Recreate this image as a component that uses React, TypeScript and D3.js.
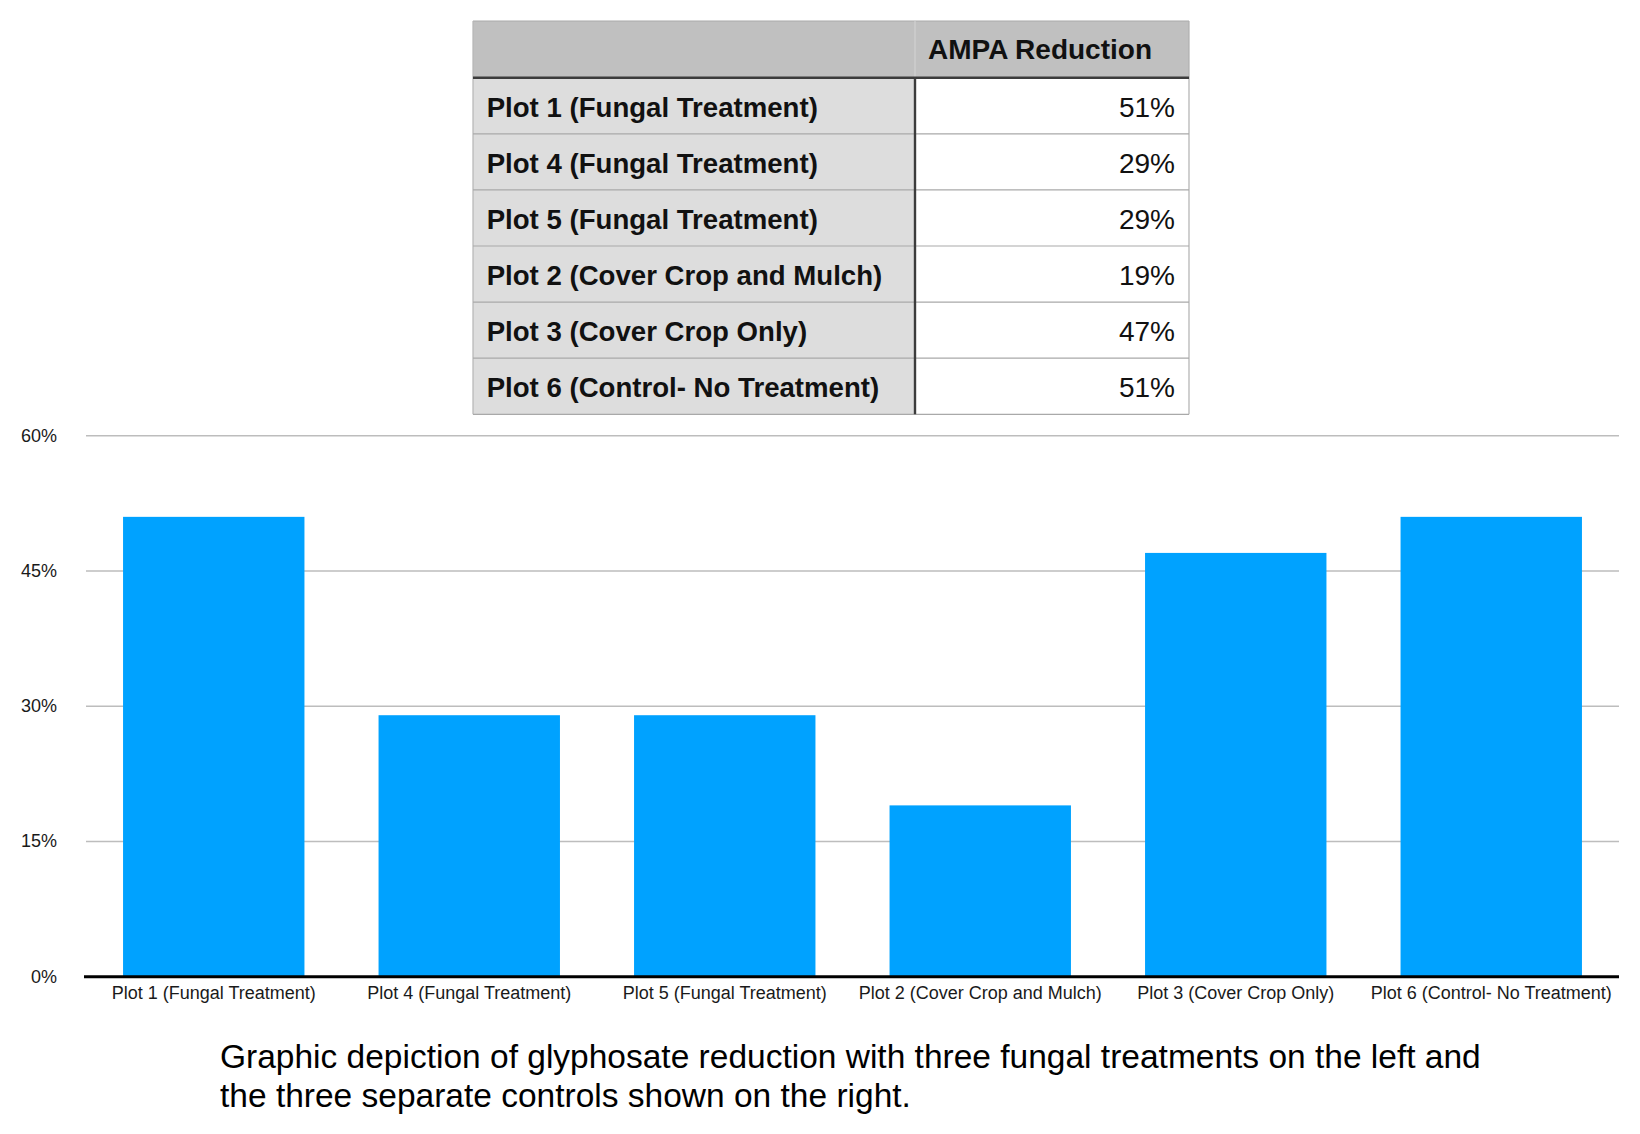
import React from "react";
import * as d3 from "d3";

const categories: string[] = [
  "Plot 1 (Fungal Treatment)",
  "Plot 4 (Fungal Treatment)",
  "Plot 5 (Fungal Treatment)",
  "Plot 2 (Cover Crop and Mulch)",
  "Plot 3 (Cover Crop Only)",
  "Plot 6 (Control- No Treatment)",
];
const values: number[] = [51, 29, 29, 19, 47, 51];
const yTicks: number[] = [0, 15, 30, 45, 60];
const tableHeader = "AMPA Reduction";
const captionLines: string[] = [
  "Graphic depiction of glyphosate reduction with three fungal treatments on the left and",
  "the three separate controls shown on the right.",
];

const W = 1640;
const H = 1134;
const FONT = "'Liberation Sans', Arial, Helvetica, sans-serif";

export default function App() {
  // chart geometry
  const plotLeft = 86;
  const plotRight = 1619;
  const y = d3.scaleLinear().domain([0, 60]).range([976.7, 435.7]);
  const x = d3
    .scaleBand<string>()
    .domain(categories)
    .range([plotLeft, plotRight])
    .paddingInner(0.29)
    .paddingOuter(0.145);

  // table geometry
  const tLeft = 473;
  const tDiv = 915;
  const tRight = 1189;
  const tTop = 21;
  const tHeadBottom = 77.7;
  const tBottom = 414.3;
  const rows = d3.scaleBand<string>().domain(categories).range([tHeadBottom, tBottom]);
  const fmt = (v: number) => `${v}%`;

  return (
    <svg
      width={W}
      height={H}
      viewBox={`0 0 ${W} ${H}`}
      style={{ position: "absolute", left: 0, top: 0, display: "block", background: "#fff" }}
      fontFamily={FONT}
    >
      <rect x={0} y={0} width={W} height={H} fill="#fff" />

      {/* gridlines */}
      {yTicks
        .filter((t) => t !== 0)
        .map((t) => (
          <line
            key={`g${t}`}
            x1={plotLeft}
            x2={plotRight}
            y1={y(t)}
            y2={y(t)}
            stroke="#bdbdbd"
            strokeWidth={1.6}
          />
        ))}

      {/* table */}
      <g>
        <rect x={tLeft} y={tTop} width={tRight - tLeft} height={tHeadBottom - tTop} fill="#c0c0c0" />
        <rect x={tLeft} y={tHeadBottom} width={tDiv - tLeft} height={tBottom - tHeadBottom} fill="#dddddd" />
        <rect x={tDiv} y={tHeadBottom} width={tRight - tDiv} height={tBottom - tHeadBottom} fill="#ffffff" />
        {/* outer thin borders */}
        <line x1={tLeft} x2={tRight} y1={tTop} y2={tTop} stroke="#a9a9a9" strokeWidth={1.2} />
        <line x1={tLeft} x2={tLeft} y1={tTop} y2={tBottom} stroke="#b5b5b5" strokeWidth={1.2} />
        <line x1={tRight} x2={tRight} y1={tTop} y2={tBottom} stroke="#b0b0b0" strokeWidth={1.2} />
        <line x1={tDiv} x2={tDiv} y1={tTop} y2={tHeadBottom} stroke="#d0d0d0" strokeWidth={1.2} />
        {categories.map((c, i) => (
          <line
            key={`rl${i}`}
            x1={tLeft}
            x2={tRight}
            y1={(rows(c) as number) + rows.bandwidth()}
            y2={(rows(c) as number) + rows.bandwidth()}
            stroke="#a9a9a9"
            strokeWidth={1.2}
          />
        ))}
        {/* thick dividers */}
        <line x1={tLeft} x2={tRight} y1={tHeadBottom} y2={tHeadBottom} stroke="#3c3c3c" strokeWidth={2.4} />
        <line x1={tDiv} x2={tDiv} y1={tHeadBottom} y2={tBottom} stroke="#3c3c3c" strokeWidth={2.4} />
        <text
          x={928}
          y={(tTop + tHeadBottom) / 2 + 10}
          fontSize={28}
          fontWeight="bold"
          fill="#111"
        >
          {tableHeader}
        </text>
        {categories.map((c, i) => {
          const cy = (rows(c) as number) + rows.bandwidth() / 2;
          return (
            <g key={`tr${i}`}>
              <text x={486.7} y={cy + 11} fontSize={27.6} fontWeight="bold" fill="#111">
                {c}
              </text>
              <text x={1175} y={cy + 11} fontSize={28} textAnchor="end" fill="#111">
                {fmt(values[i])}
              </text>
            </g>
          );
        })}
      </g>

      {/* bars */}
      {categories.map((c, i) => (
        <rect
          key={`b${i}`}
          x={x(c)}
          y={y(values[i])}
          width={x.bandwidth()}
          height={y(0) - y(values[i])}
          fill="#00a2ff"
        />
      ))}

      {/* x axis line */}
      <line x1={plotLeft - 2} x2={plotRight} y1={y(0)} y2={y(0)} stroke="#000" strokeWidth={3} />

      {/* y tick labels */}
      {yTicks.map((t) => (
        <text key={`yl${t}`} x={57} y={y(t) + 6} fontSize={18} textAnchor="end" fill="#1a1a1a">
          {fmt(t)}
        </text>
      ))}

      {/* category labels */}
      {categories.map((c, i) => (
        <text
          key={`xl${i}`}
          x={(x(c) as number) + x.bandwidth() / 2}
          y={999}
          fontSize={18}
          textAnchor="middle"
          fill="#1a1a1a"
        >
          {c}
        </text>
      ))}

      {/* caption */}
      {captionLines.map((line, i) => (
        <text key={`cap${i}`} x={220} y={1068 + i * 39} fontSize={33.5} fill="#000">
          {line}
        </text>
      ))}
    </svg>
  );
}
